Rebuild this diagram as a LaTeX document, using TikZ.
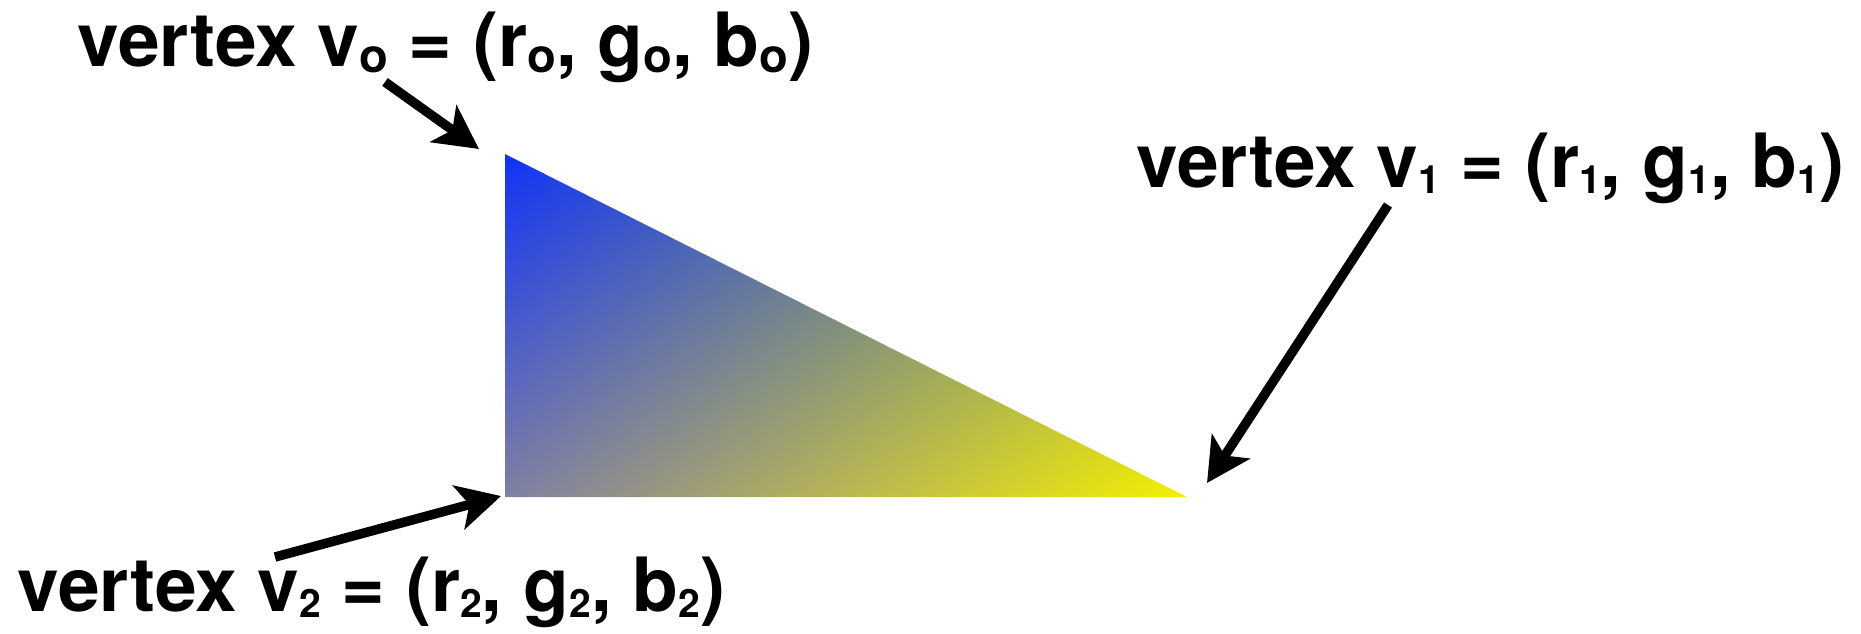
\documentclass[tikz,border=0pt]{standalone}
\usepackage{fontspec}
\setmainfont{TeX Gyre Heros}
\usetikzlibrary{arrows.meta}

% colour of a point is affine in (x,y): v0 blue, v1 yellow, v2 grey
\pgfdeclarefunctionalshading{vertexblend}{\pgfpoint{0bp}{0bp}}{\pgfpoint{100bp}{100bp}}{}{
  2 copy -0.0088 mul exch 0.0092 mul add 0.49 add
  3 1 roll
  2 copy -0.006 mul exch 0.0088 mul add 0.43 add
  3 1 roll
  0.0066 mul exch -0.0128 mul add 0.795 add
}

\newcommand{\vsub}[2]{\raisebox{-0.15ex}{\fontsize{#1}{#1}\selectfont #2}}
\newcommand{\vlabel}[2]{{\fontsize{21.3}{25}\selectfont\bfseries vertex v\vsub{#1}{#2} = (r\vsub{#1}{#2}, g\vsub{#1}{#2}, b\vsub{#1}{#2})}}

\begin{document}
\begin{tikzpicture}[
    x=0.1mm, y=0.1mm,
    vlab/.style={anchor=base west, inner sep=0pt},
    arr/.style={-{Stealth[length=12.4pt, width=12.8pt, inset=3.1pt]}, line width=2.7pt, black},
]
\useasboundingbox (0,0) rectangle (1861,633);

% === triangle ===
\coordinate (v0) at (505,479);
\coordinate (v1) at (1187,136);
\coordinate (v2) at (505,136);
\shade[shading=vertexblend] (v0) -- (v1) -- (v2) -- cycle;

% === labels ===
\node[vlab] (lab0) at (77,567) {\vlabel{13.4}{o}};
\node[vlab] (lab1) at (1136,446) {\vlabel{11.1}{1}};
\node[vlab] (lab2) at (17,22) {\vlabel{11.1}{2}};

% Arrows
\coordinate (tail0) at (385,551);
\coordinate (tip0) at (479,484);
\coordinate (tail1) at (1388,428);
\coordinate (tip1) at (1207,150);
\coordinate (tail2) at (275,76);
\coordinate (tip2) at (501,137);
\draw[arr] (tail0) -- (tip0);
\draw[arr] (tail1) -- (tip1);
\draw[arr] (tail2) -- (tip2);

\end{tikzpicture}
\end{document}
